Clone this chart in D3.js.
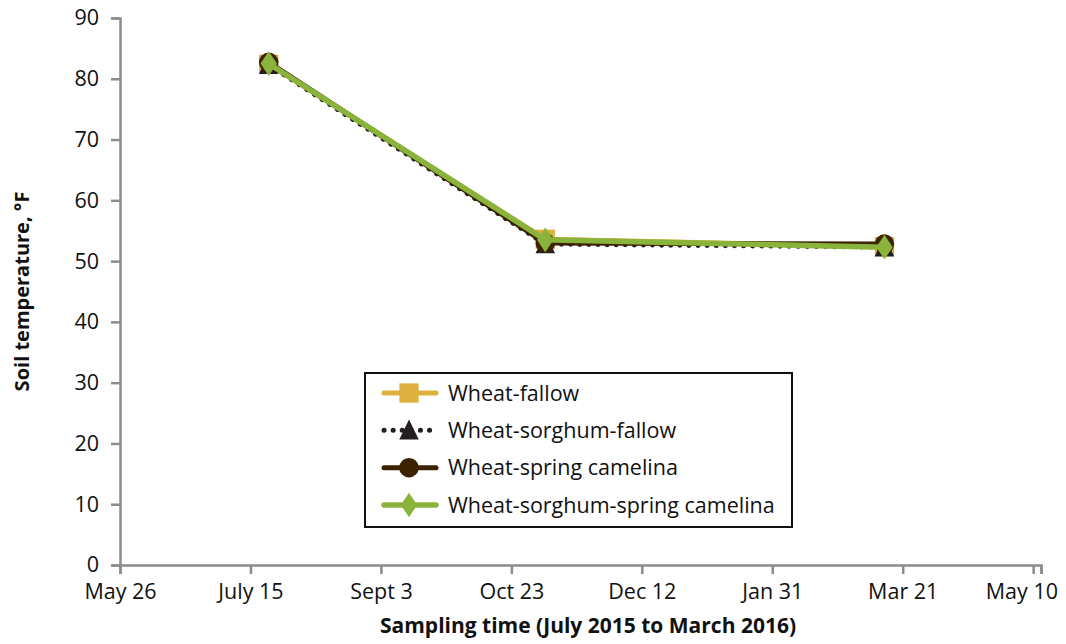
<!DOCTYPE html>
<html>
<head>
<meta charset="utf-8">
<script src="https://cdn.jsdelivr.net/npm/d3@7"></script>
<style>
  body { margin: 0; background: #fff; }
  text { font-family: "Open Sans", "Noto Sans", sans-serif; fill: #111; }
</style>
</head>
<body>
<div id="chart"></div>
<script>
// sampling dates and soil temperature (°F) per rotation
const sampleDates = ["2015-07-22", "2015-11-05", "2016-03-14"]
const wheatFallow = [82.4, 53.6, 52.4]
const wheatSorghumFallow = [82.3, 52.8, 52.3]
const wheatSpringCamelina = [82.7, 53.0, 52.8]
const wheatSorghumSpringCamelina = [82.5, 53.5, 52.3]

const seriesNames = ["Wheat-fallow", "Wheat-sorghum-fallow", "Wheat-spring camelina", "Wheat-sorghum-spring camelina"]
const yTicks = [0, 10, 20, 30, 40, 50, 60, 70, 80, 90]
const xTickDates = ["2015-05-26", "2015-07-15", "2015-09-03", "2015-10-23", "2015-12-12", "2016-01-31", "2016-03-21", "2016-05-10"]
const xTickLabels = ["May 26", "July 15", "Sept 3", "Oct 23", "Dec 12", "Jan 31", "Mar 21", "May 10"]

const WIDTH = 1066
const HEIGHT = 644
const MARGIN = { LEFT: 120, RIGHT: 25, TOP: 18, BOTTOM: 80 }
const FONT = 21.5

const parse = d3.timeParse("%Y-%m-%d")

const svg = d3.select("#chart").append("svg")
  .attr("width", WIDTH)
  .attr("height", HEIGHT)

const x = d3.scaleTime()
  .domain([parse("2015-05-26"), parse("2016-05-13")])
  .range([MARGIN.LEFT, WIDTH - MARGIN.RIGHT])

const y = d3.scaleLinear()
  .domain([0, 90])
  .range([HEIGHT - MARGIN.BOTTOM + 1, MARGIN.TOP])

const axisColor = "#8c8c8c"

// y axis
const yAxis = svg.append("g")
  .attr("transform", `translate(${MARGIN.LEFT},0)`)
  .call(d3.axisLeft(y).tickValues(yTicks).tickSize(9).tickPadding(12))
yAxis.select(".domain").attr("stroke", axisColor).attr("stroke-width", 2.5)
yAxis.selectAll(".tick line").attr("stroke", axisColor).attr("stroke-width", 2.5)
yAxis.selectAll(".tick text")
  .attr("font-size", FONT + "px")
  .attr("fill", "#111")
  .attr("font-family", "'Open Sans', sans-serif")

// x axis
const xAxis = svg.append("g")
  .attr("transform", `translate(0,${y(0)})`)
  .call(d3.axisBottom(x)
    .tickValues(xTickDates.map(parse).concat([x.domain()[1]]))
    .tickSize(9)
    .tickPadding(10)
    .tickFormat(d => {
      const i = xTickDates.indexOf(d3.timeFormat("%Y-%m-%d")(d))
      return i >= 0 ? xTickLabels[i] : ""
    }))
xAxis.select(".domain").attr("stroke", axisColor).attr("stroke-width", 2.5)
xAxis.selectAll(".tick line").attr("stroke", axisColor).attr("stroke-width", 2.5)
xAxis.selectAll(".tick text")
  .attr("font-size", FONT + "px")
  .attr("fill", "#111")
  .attr("font-family", "'Open Sans', sans-serif")
  .each(function() {
    // keep the last label inside the picture, like Excel does
    const box = this.getBBox()
    const tx = +d3.select(this.parentNode).attr("transform").match(/translate\(([-\d.]+)/)[1]
    const overflow = tx + box.x + box.width - (WIDTH - 8)
    if (overflow > 0) d3.select(this).attr("dx", -overflow)
  })

// axis titles
svg.append("text")
  .attr("x", 588)
  .attr("y", 633)
  .attr("text-anchor", "middle")
  .attr("font-size", "21px")
  .attr("font-weight", "bold")
  .text("Sampling time (July 2015 to March 2016)")

svg.append("text")
  .attr("transform", `translate(29,${(y(0) + y(90)) / 2}) rotate(-90)`)
  .attr("text-anchor", "middle")
  .attr("font-size", "20px")
  .attr("font-weight", "bold")
  .text("Soil temperature, °F")

// custom marker shapes, sized like the Excel markers
const diamond = {
  draw(ctx, size) {
    const w = Math.sqrt(size) * 0.5, h = w * 1.5
    ctx.moveTo(0, -h); ctx.lineTo(w, 0); ctx.lineTo(0, h); ctx.lineTo(-w, 0); ctx.closePath()
  }
}
const triangle = {
  draw(ctx, size) {
    const w = Math.sqrt(size) * 0.5
    ctx.moveTo(0, -w * 1.1); ctx.lineTo(w, w * 0.95); ctx.lineTo(-w, w * 0.95); ctx.closePath()
  }
}

// series definitions
const series = [
  { name: seriesNames[0], values: wheatFallow, color: "#dcb13f", dash: null, width: 5, symbol: d3.symbolSquare, size: 370 },
  { name: seriesNames[1], values: wheatSorghumFallow, color: "#231f20", dash: "0.1 9", width: 5, symbol: triangle, size: 380 },
  { name: seriesNames[2], values: wheatSpringCamelina, color: "#3c2300", dash: null, width: 5, symbol: d3.symbolCircle, size: 300 },
  { name: seriesNames[3], values: wheatSorghumSpringCamelina, color: "#8ab33b", dash: null, width: 5.5, symbol: diamond, size: 270 }
]

const line = d3.line()
  .x((d, i) => x(parse(sampleDates[i])))
  .y(d => y(d))

const plot = svg.append("g")

series.forEach(s => {
  plot.append("path")
    .datum(s.values)
    .attr("fill", "none")
    .attr("stroke", s.color)
    .attr("stroke-width", s.width)
    .attr("stroke-linecap", s.dash ? "round" : "butt")
    .attr("stroke-linejoin", "round")
    .attr("stroke-dasharray", s.dash)
    .attr("d", line)

  plot.selectAll(null)
    .data(s.values)
    .enter().append("path")
    .attr("transform", (d, i) => `translate(${x(parse(sampleDates[i]))},${y(d)})`)
    .attr("d", d3.symbol().type(s.symbol).size(s.size))
    .attr("fill", s.color)
})

// legend
const legend = svg.append("g")
  .attr("transform", "translate(365,373)")

legend.append("rect")
  .attr("width", 427)
  .attr("height", 154)
  .attr("fill", "#fff")
  .attr("stroke", "#111")
  .attr("stroke-width", 2)

const rowY = d3.scalePoint()
  .domain(seriesNames)
  .range([20, 132])

series.forEach(s => {
  const g = legend.append("g")
    .attr("transform", `translate(0,${rowY(s.name)})`)
  g.append("line")
    .attr("x1", 19).attr("x2", 71)
    .attr("stroke", s.color)
    .attr("stroke-width", s.width)
    .attr("stroke-linecap", "round")
    .attr("stroke-dasharray", s.dash)
  g.append("path")
    .attr("transform", "translate(44,0)")
    .attr("d", d3.symbol().type(s.symbol).size(s.size))
    .attr("fill", s.color)
  g.append("text")
    .attr("x", 83)
    .attr("dy", "0.35em")
    .attr("font-size", FONT + "px")
    .text(s.name)
})
</script>
</body>
</html>
